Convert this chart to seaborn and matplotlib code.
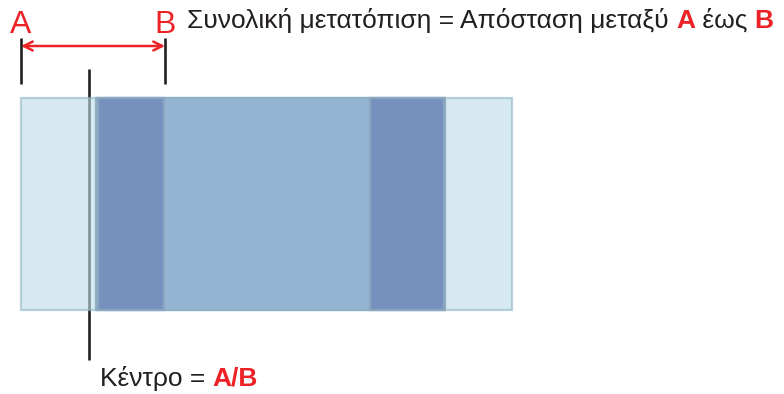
import matplotlib
matplotlib.use("Agg")
import matplotlib.pyplot as plt
import seaborn as sns
import numpy as np

# diagram values (pixel units of the 784x394 reference)
zone_names = ["outer", "body", "pad_left", "pad_right"]
zone_start = [21, 96, 98, 370]
zone_end = [512, 445, 164, 444]
zone_top = 98
zone_bottom = 310

marker_labels = ["A", "B"]
marker_x = [21, 165]
centre_x = 89

title_parts = ["Συνολική μετατόπιση = Απόσταση μεταξύ ", "A", " έως ", "B"]
centre_parts = ["Κέντρο = ", "A/B"]

RED = "#ec2227"
INK = "#231f20"
zone_face = {"outer": "#bddbe6", "body": "#95b4d1", "pad_left": "#7890be", "pad_right": "#7890be"}
zone_edge = {"outer": "#8fb6c6", "body": "#8fb1c3", "pad_left": "#8aa6c0", "pad_right": "#8aa6c0"}
zone_alpha = {"outer": 0.6, "body": 1.0, "pad_left": 1.0, "pad_right": 1.0}

sns.set_theme(style="white")
plt.rcParams["font.family"] = ["Liberation Sans", "DejaVu Sans"]

fig = plt.figure(figsize=(7.84, 3.94), dpi=100)
ax = fig.add_axes([0, 0, 1, 1])
ax.set_xlim(0, 784)
ax.set_ylim(394, 0)
ax.axis("off")

# centre line sits behind the translucent outer zone
ax.vlines(centre_x, 69, 360, color=INK, lw=1.9, zorder=1)

mid = (zone_top + zone_bottom) / 2
for name, s, e in zip(zone_names, zone_start, zone_end):
    ax.barh(mid, e - s, left=s, height=zone_bottom - zone_top,
            color=zone_face[name], edgecolor=zone_edge[name], lw=1.6,
            alpha=zone_alpha[name], zorder=2 + zone_names.index(name))

# A / B markers
for lab, x in zip(marker_labels, marker_x):
    ax.vlines(x, 38, 84, color=INK, lw=1.9, zorder=5)
    ax.text(x, 33, lab, color=RED, fontsize=23, ha="center", va="baseline", zorder=6)
ax.annotate("", xy=(marker_x[0], 46), xytext=(marker_x[1], 46),
            arrowprops=dict(arrowstyle="<->", color=RED, lw=1.8,
                            mutation_scale=16, shrinkA=0, shrinkB=0))

fig.canvas.draw()
renderer = fig.canvas.get_renderer()


def run_text(x, y, parts, size):
    # draw parts one after another; odd parts are red bold
    for i, p in enumerate(parts):
        red = i % 2 == 1
        t = ax.text(x, y, p, fontsize=size, va="baseline", ha="left",
                    color=RED if red else INK, fontweight="bold" if red else "normal")
        bb = t.get_window_extent(renderer)
        x = ax.transData.inverted().transform((bb.x1, bb.y0))[0]


run_text(187, 28, title_parts, 19)
run_text(100, 386, centre_parts, 19)

fig.savefig("out.png", dpi=100)
